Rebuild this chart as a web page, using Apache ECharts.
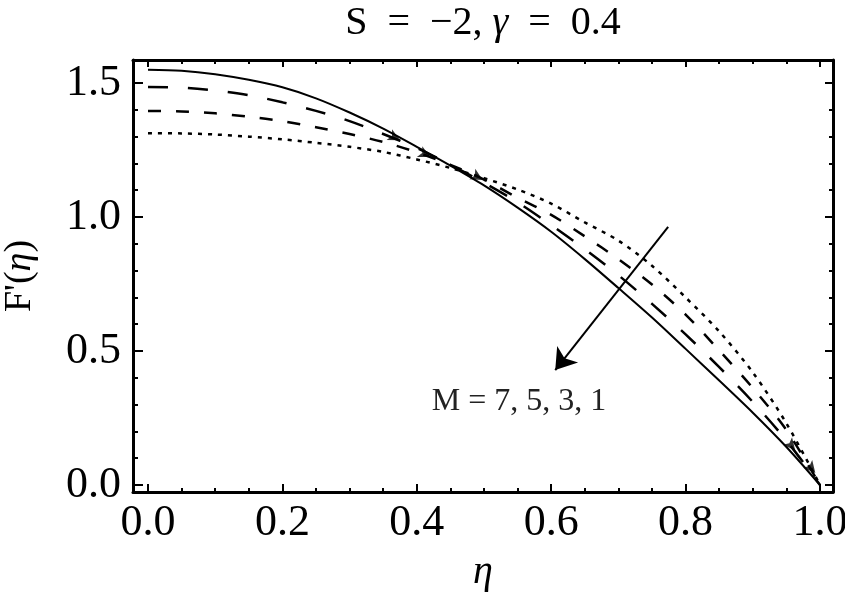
<!DOCTYPE html>
<html><head><meta charset="utf-8">
<script src="https://cdn.jsdelivr.net/npm/echarts@6/dist/echarts.min.js"></script>
<style>html,body{margin:0;padding:0;background:#fff}#c{width:845px;height:593px}</style>
</head><body><div id="c"></div>
<script>
// ---- data ----
const eta = [0,0.05,0.1,0.15,0.2,0.25,0.3,0.35,0.4,0.45,0.5,0.55,0.6,0.65,0.7,0.75,0.8,0.85,0.9,0.95,1.0];
const fM1 = [1.550,1.546,1.533,1.512,1.484,1.443,1.390,1.330,1.262,1.192,1.118,1.035,0.945,0.843,0.735,0.625,0.508,0.390,0.270,0.142,0];
const fM3 = [1.485,1.483,1.472,1.455,1.428,1.396,1.358,1.310,1.258,1.195,1.128,1.055,0.970,0.880,0.783,0.676,0.562,0.440,0.310,0.166,0];
const fM5 = [1.396,1.394,1.387,1.374,1.358,1.335,1.310,1.280,1.242,1.195,1.140,1.072,1.008,0.928,0.843,0.748,0.636,0.502,0.362,0.205,0];
const fM7 = [1.313,1.312,1.308,1.300,1.290,1.277,1.262,1.243,1.215,1.183,1.145,1.103,1.050,0.980,0.912,0.818,0.700,0.573,0.420,0.230,0];
const xTicks = [0,0.2,0.4,0.6,0.8,1.0];
const xMinor = [0.05,0.1,0.15,0.25,0.3,0.35,0.45,0.5,0.55,0.65,0.7,0.75,0.85,0.9,0.95];
const yTicks = [0,0.5,1.0,1.5];
const yMinor = [0.1,0.2,0.3,0.4,0.6,0.7,0.8,0.9,1.1,1.2,1.3,1.4];
const arrowFrom = [0.774,0.963];
const arrowTo = [0.606,0.429];
const headPts = [[0.375,1.287,-117],[0.42,1.224,-117],[0.498,1.138,-120],[0.963,0.13,-140],[0.993,0.045,-140]];
const titleText = 'S\u2002=\u2002−2, {i|γ}\u2002=\u20020.4';
const noteText = 'M = 7, 5, 3, 1';

const xMin = -0.0223, xMax = 1.0193, yMin = -0.026, yMax = 1.586;
const FONT = 'Liberation Serif';
const pairs = arr => eta.map((e,i)=>[e,arr[i]]);

function xAx(pos, vals, len, main){
  return {type:'value', position:pos, min:xMin, max:xMax, gridIndex:0,
    axisLine:{show:main, onZero:false, lineStyle:{color:'#000', width:3}},
    axisTick:{show:true, inside:true, length:len, customValues:vals, lineStyle:{color:'#000', width:2}},
    axisLabel:{show: pos==='bottom' && main, customValues:xTicks, formatter:v=>v.toFixed(1),
      fontSize:44, fontFamily:FONT, color:'#000', margin:9},
    splitLine:{show:false},
    name: (pos==='bottom'&&main)?'η':'', nameLocation:'middle', nameGap:60,
    nameTextStyle:{fontSize:40, fontFamily:FONT, fontStyle:'italic', color:'#000'}
  };
}
function yAx(pos, vals, len, main){
  return {type:'value', position:pos, min:yMin, max:yMax, gridIndex:0,
    axisLine:{show:main, onZero:false, lineStyle:{color:'#000', width:3}},
    axisTick:{show:true, inside:true, length:len, customValues:vals, lineStyle:{color:'#000', width:2}},
    axisLabel:{show: pos==='left' && main, customValues:yTicks, formatter:v=>v.toFixed(1),
      fontSize:44, fontFamily:FONT, color:'#000', margin:12},
    splitLine:{show:false},
    name: (pos==='left'&&main)?"F'({i|η})":'', nameLocation:'middle', nameGap:94, nameRotate:90,
    nameTextStyle:{fontSize:38, fontFamily:FONT, color:'#000', rich:{i:{fontSize:38, fontFamily:FONT, fontStyle:'italic'}}}
  };
}

const chart = echarts.init(document.getElementById('c'), null, {renderer:'canvas'});
const lineBase = (name, data, dash, w) => ({
  name, type:'line', data:pairs(data), showSymbol:false, smooth:0.3, xAxisIndex:0, yAxisIndex:0,
  lineStyle:{color:'#000', width:w, type: dash ? dash : 'solid', cap:'butt'}, z:3, silent:true
});
chart.setOption({
  animation:false,
  backgroundColor:'#fff',
  grid:{left:133, right:12, top:60, bottom:101, containLabel:false, outerBoundsMode:'none'},
  xAxis:[xAx('bottom', xTicks, 8, true), xAx('bottom', xMinor, 4, false), xAx('top', xTicks, 7, true), xAx('top', xMinor, 4, false)],
  yAxis:[yAx('left', yTicks, 10, true), yAx('left', yMinor, 5, false), yAx('right', yTicks, 8, true), yAx('right', yMinor, 4, false)],
  series:[
    lineBase('M = 1', fM1, null, 2),
    lineBase('M = 3', fM3, [20,20], 2.5),
    lineBase('M = 5', fM5, [13,15], 2.5),
    lineBase('M = 7', fM7, [4,6], 2.5),
    {type:'scatter', xAxisIndex:0, yAxisIndex:0, silent:true, z:4,
      data: headPts.map(p=>({value:[p[0],p[1]], symbolRotate:p[2]})),
      symbol:'arrow', symbolSize:[9,12], itemStyle:{color:'#000'}},
    {type:'line', xAxisIndex:0, yAxisIndex:0, data:[[arrowFrom[0],arrowFrom[1]]], showSymbol:false, silent:true,
      lineStyle:{opacity:0},
      markLine:{silent:true, symbol:['none','arrow'], symbolSize:20, label:{show:false},
        lineStyle:{color:'#000', width:2, type:'solid'},
        itemStyle:{color:'#000'},
        data:[[{coord:arrowFrom},{coord:arrowTo}]]}}
  ],
  graphic:[
    {type:'text', x:483, y:3, style:{text:titleText, font:'40px "Liberation Serif"', fill:'#000', align:'center', verticalAlign:'top',
      rich:{i:{font:'italic 40px "Liberation Serif"', fill:'#000'}}}},
    {type:'text', x:519, y:402, style:{text:noteText, font:'32px "Liberation Serif"', fill:'#222', align:'center', verticalAlign:'middle'}}
  ]
});
</script></body></html>
